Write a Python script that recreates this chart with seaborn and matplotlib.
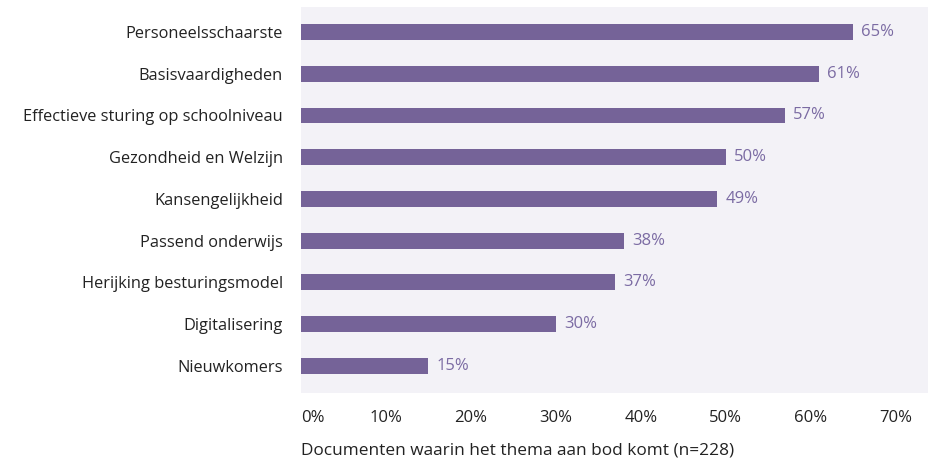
import matplotlib
matplotlib.use("Agg")
import matplotlib.pyplot as plt
import seaborn as sns
import pandas as pd

# Data
themas = [
    "Personeelsschaarste",
    "Basisvaardigheden",
    "Effectieve sturing op schoolniveau",
    "Gezondheid en Welzijn",
    "Kansengelijkheid",
    "Passend onderwijs",
    "Herijking besturingsmodel",
    "Digitalisering",
    "Nieuwkomers",
]
percentages = [65, 61, 57, 50, 49, 38, 37, 30, 15]
xticks = [0, 10, 20, 30, 40, 50, 60, 70]

bar_kleur = "#756398"
achtergrond = "#f3f2f7"

df = pd.DataFrame({"thema": themas, "pct": percentages})

sns.set_theme(style="white")
plt.rcParams["font.family"] = ["Open Sans", "DejaVu Sans"]

fig = plt.figure(figsize=(9.35, 4.65), dpi=100)
ax = fig.add_axes([0.322, 0.155, 0.6705, 0.83])
ax.set_facecolor(achtergrond)

sns.barplot(data=df, x="pct", y="thema", orient="h", color=bar_kleur,
            saturation=1, width=0.38, linewidth=0, ax=ax)

# labels met percentages
for i, v in enumerate(percentages):
    ax.text(v + 0.95, i, f"{v}%", va="center", ha="left",
            fontsize=12, color="#7b6ba3")

ax.set_xlim(0, 73.8)
ax.set_ylim(8.65, -0.6)
ax.set_xticks(xticks)
ax.set_xticklabels([f"{t}%" for t in xticks], fontsize=12, color="#222222")
ax.get_xticklabels()[0].set_ha("left")  # 0% begint bij de rand
ax.tick_params(axis="y", labelsize=11.8, labelcolor="#222222", pad=13, length=0)
ax.tick_params(axis="x", pad=12, length=0)
ax.set_ylabel("")
ax.set_xlabel("Documenten waarin het thema aan bod komt (n=228)", fontsize=12.4,
              color="#222222", loc="left", labelpad=12)
for s in ax.spines.values():
    s.set_visible(False)

fig.savefig("out.png", dpi=100)
